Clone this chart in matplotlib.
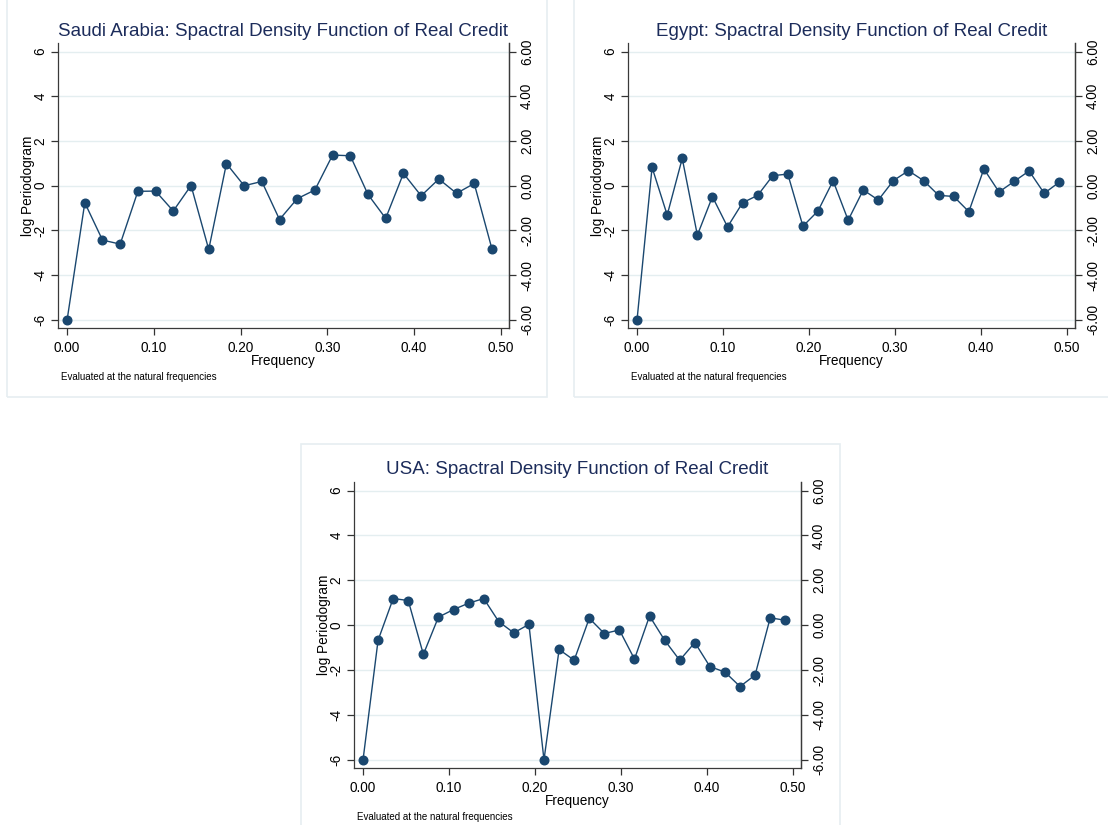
import numpy as np
import matplotlib
matplotlib.use("Agg")
import matplotlib.pyplot as plt
from matplotlib.patches import Rectangle

plt.rcParams['font.family'] = ['Liberation Sans', 'DejaVu Sans']

# natural frequencies
freq_sa = [0.0, 0.0204, 0.0408, 0.0612, 0.0816, 0.1020, 0.1224, 0.1429, 0.1633,
           0.1837, 0.2041, 0.2245, 0.2449, 0.2653, 0.2857, 0.3061, 0.3265, 0.3469,
           0.3673, 0.3878, 0.4082, 0.4286, 0.4490, 0.4694, 0.4898]
freq_57 = [0.0, 0.0175, 0.0351, 0.0526, 0.0702, 0.0877, 0.1053, 0.1228, 0.1404,
           0.1579, 0.1754, 0.1930, 0.2105, 0.2281, 0.2456, 0.2632, 0.2807, 0.2982,
           0.3158, 0.3333, 0.3509, 0.3684, 0.3860, 0.4035, 0.4211, 0.4386, 0.4561,
           0.4737, 0.4912]

# log periodogram
lp_saudi = [-6.0, -0.76, -2.43, -2.61, -0.25, -0.24, -1.13, 0.01, -2.85, 0.99,
            0.0, 0.19, -1.51, -0.58, -0.19, 1.37, 1.34, -0.39, -1.46, 0.55,
            -0.45, 0.30, -0.34, 0.10, -2.82]
lp_egypt = [-6.0, 0.82, -1.31, 1.22, -2.21, -0.49, -1.84, -0.76, -0.43, 0.45,
            0.52, -1.81, -1.13, 0.22, -1.54, -0.19, -0.64, 0.23, 0.67, 0.23,
            -0.43, -0.48, -1.16, 0.75, -0.28, 0.19, 0.66, -0.34, 0.16]
lp_usa = [-6.0, -0.67, 1.19, 1.10, -1.30, 0.36, 0.70, 0.98, 1.19, 0.16,
          -0.34, 0.04, -6.0, -1.08, -1.56, 0.31, -0.37, -0.21, -1.51, 0.41,
          -0.67, -1.56, -0.77, -1.84, -2.09, -2.73, -2.22, 0.33, 0.22]

yticks = [-6, -4, -2, 0, 2, 4, 6]
xticks = [0.0, 0.1, 0.2, 0.3, 0.4, 0.5]

W, H = 1108, 825
navy = '#1a476f'
title_col = '#1c2c5b'
grid_col = '#e4eef0'
frame_col = '#e6eef1'


def px_box(l, t, r, b):
    # pixel box -> figure fraction [left, bottom, width, height]
    return [l / W, 1 - b / H, (r - l) / W, (b - t) / H]


def panel(fig, box, frame, x, y, title):
    fl, ft, fr, fb = frame
    fig.patches.append(Rectangle((fl / W, 1 - fb / H), (fr - fl) / W, (fb - ft) / H,
                                 transform=fig.transFigure, fill=False,
                                 edgecolor=frame_col, lw=1.2))
    ax = fig.add_axes(px_box(*box))
    ax.plot(x, y, '-o', color=navy, lw=1.0, ms=6.2, mfc=navy, mec=navy)
    ax.set_xlim(-0.0105, 0.5095)
    ax.set_ylim(-6.36, 6.38)
    ax.set_yticks(yticks)
    ax.set_yticklabels([str(v) for v in yticks], rotation=90, va='center')
    ax.set_xticks(xticks)
    ax.set_xticklabels(['%.2f' % v for v in xticks])
    ax.grid(axis='y', color=grid_col, lw=1.0)
    ax.set_axisbelow(True)
    ax.tick_params(direction='out', length=5, width=0.9, labelsize=9.8, pad=2.5,
                   color='#333333')
    ax.tick_params(axis='x', pad=4)
    for s in ['left', 'bottom', 'right']:
        ax.spines[s].set_color('#3a3a3a')
        ax.spines[s].set_linewidth(0.9)
    ax.spines['top'].set_visible(False)
    ax.set_xlabel('Frequency', fontsize=9.8, labelpad=0)
    ax.set_ylabel('log Periodogram', fontsize=9.8, labelpad=-1)

    # second y axis with two-decimal labels
    ax2 = ax.twinx()
    ax2.set_ylim(ax.get_ylim())
    ax2.set_yticks(yticks)
    ax2.set_yticklabels(['%.2f' % v for v in yticks], rotation=90, va='center')
    ax2.tick_params(direction='out', length=5, width=0.9, labelsize=9.8, pad=3,
                    color='#333333')
    for s in ['left', 'bottom', 'top']:
        ax2.spines[s].set_visible(False)
    ax2.spines['right'].set_color('#3a3a3a')
    ax2.spines['right'].set_linewidth(0.9)

    l, t, r, b = box
    fig.text((l + r) / 2 / W, 1 - (t - 12) / H, title, ha='center', va='center',
             fontsize=13.5, color=title_col)
    fig.text((l + 3) / W, 1 - (b + 49) / H, 'Evaluated at the natural frequencies',
             ha='left', va='center', fontsize=7)
    return ax


fig = plt.figure(figsize=(W / 100, H / 100), dpi=100)

panel(fig, (58, 43, 509, 328), (7, -5, 547, 397), freq_sa, lp_saudi,
      'Saudi Arabia: Spactral Density Function of Real Credit')
panel(fig, (628, 43, 1075, 328), (574, -5, 1115, 397), freq_57, lp_egypt,
      'Egypt: Spactral Density Function of Real Credit')
panel(fig, (354, 482, 801, 768), (301, 444, 840, 830), freq_57, lp_usa,
      'USA: Spactral Density Function of Real Credit')

fig.savefig('out.png', dpi=100)
